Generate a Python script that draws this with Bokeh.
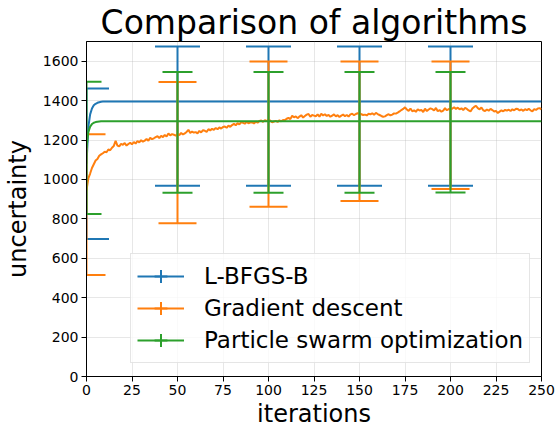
import math
from bokeh.plotting import figure
from bokeh.models import (Range1d, FixedTicker, Legend, LegendItem, ColumnDataSource, Title)
from bokeh.embed import file_html
from bokeh.resources import INLINE

# ---------------- data ----------------
iterations = list(range(0, 251))

lbfgsb_x = [0, 1, 2, 3, 4, 5, 6, 7, 8, 9, 10, 250]
lbfgsb_y = [1080, 1265, 1330, 1360, 1376, 1384, 1389, 1392, 1394, 1395, 1395, 1395]

pso_x = [0, 1, 2, 3, 4, 5, 6, 7, 8, 9, 250]
pso_y = [1160, 1240, 1268, 1281, 1288, 1291, 1293, 1294, 1295, 1295, 1295]

gd_y = [
    945, 1005, 1030, 1058, 1077, 1096, 1104, 1120, 1127, 1133,
    1141, 1138, 1152, 1148, 1161, 1170, 1196, 1172, 1168, 1181,
    1176, 1185, 1172, 1180, 1186, 1178, 1190, 1182, 1195, 1188,
    1199, 1192, 1197, 1205, 1196, 1212, 1204, 1209, 1215, 1219,
    1210, 1221, 1215, 1226, 1218, 1233, 1224, 1230, 1227, 1222,
    1230, 1225, 1236, 1228, 1234, 1241, 1252, 1236, 1243, 1238,
    1240, 1234, 1246, 1239, 1250, 1247, 1241, 1255, 1249, 1257,
    1252, 1261, 1255, 1264, 1258, 1266, 1269, 1262, 1273, 1267,
    1276, 1282, 1275, 1286, 1279, 1291, 1287, 1283, 1292, 1285,
    1290, 1289, 1284, 1293, 1288, 1297, 1299, 1292, 1301, 1296,
    1303, 1298, 1290, 1294, 1297, 1292, 1300, 1295, 1302, 1301,
    1308, 1313, 1306, 1323, 1315, 1320, 1311, 1319, 1326, 1314,
    1322, 1329, 1332, 1318, 1327, 1324, 1321, 1330, 1319, 1333,
    1325, 1331, 1322, 1328, 1318, 1324, 1330, 1320, 1326, 1317,
    1324, 1329, 1321, 1327, 1319, 1330, 1333, 1326, 1332, 1336,
    1335, 1331, 1327, 1329, 1325, 1333, 1330, 1336, 1328, 1338,
    1332, 1327, 1322, 1318, 1320, 1326, 1331, 1325, 1329, 1335,
    1334, 1339, 1345, 1352, 1358, 1366, 1355, 1348, 1360, 1346,
    1351, 1343, 1356, 1350, 1353, 1342, 1359, 1347, 1355, 1361,
    1357, 1350, 1363, 1346, 1352, 1344, 1349, 1362, 1351, 1357,
    1355, 1360, 1366, 1358, 1364, 1356, 1361, 1352, 1363, 1358,
    1350, 1345, 1360, 1368, 1374, 1362, 1356, 1365, 1351, 1347,
    1355, 1349, 1358, 1352, 1345, 1348, 1337, 1344, 1351, 1346,
    1353, 1349, 1354, 1347, 1356, 1351, 1359, 1357, 1350, 1355,
    1348, 1356, 1352, 1358, 1351, 1346, 1357, 1353, 1360, 1362,
    1355,
]

err_x = [0, 50, 100, 150, 200]
lbfgsb_upper = [1462, 1675, 1675, 1675, 1675]
lbfgsb_lower = [698, 968, 968, 968, 968]
gd_upper = [1229, 1494, 1598, 1598, 1598]
gd_lower = [515, 778, 862, 890, 951]
pso_upper = [1496, 1545, 1545, 1545, 1545]
pso_lower = [824, 932, 932, 932, 934]

labels = ["L-BFGS-B", "Gradient descent", "Particle swarm optimization"]
colors = ["#1f77b4", "#ff7f0e", "#2ca02c"]
cap_sizes = [45, 38, 30]

x_ticks = [0, 25, 50, 75, 100, 125, 150, 175, 200, 225, 250]
y_ticks = [0, 200, 400, 600, 800, 1000, 1200, 1400, 1600]

FONT = "DejaVu Sans"

# ---------------- figure ----------------
p = figure(width=555, height=430, output_backend="svg", toolbar_location=None,
           x_range=Range1d(0, 250), y_range=Range1d(0, 1700),
           min_border_left=86, min_border_right=14, min_border_top=0, min_border_bottom=52)
p.background_fill_color = "white"
p.border_fill_color = "white"
p.outline_line_color = "black"
p.outline_line_width = 1

p.title = Title(text="Comparison of algorithms", align="center",
                text_font=FONT, text_font_size="33px", text_font_style="normal",
                text_color="black", offset=0, standoff=0)

for ax in (p.xaxis[0], p.yaxis[0]):
    ax.axis_line_color = "black"
    ax.major_tick_line_color = "black"
    ax.major_tick_out = 5
    ax.major_tick_in = 0
    ax.minor_tick_line_color = None
    ax.major_label_text_font = FONT
    ax.major_label_text_font_size = "14px"
    ax.major_label_text_color = "black"
    ax.axis_label_text_font = FONT
    ax.axis_label_text_font_size = "24px"
    ax.axis_label_text_font_style = "normal"
    ax.axis_label_text_color = "black"
    ax.major_label_standoff = 3

p.xaxis.ticker = FixedTicker(ticks=x_ticks)
p.yaxis.ticker = FixedTicker(ticks=y_ticks)
p.xaxis.axis_label = "iterations"
p.yaxis.axis_label = "uncertainty"
p.xaxis.axis_label_standoff = 2
p.yaxis.axis_label_standoff = 8

p.xgrid.grid_line_color = "#b0b0b0"
p.ygrid.grid_line_color = "#b0b0b0"
p.xgrid.grid_line_alpha = 0.3
p.ygrid.grid_line_alpha = 0.3

series = [
    (lbfgsb_x, lbfgsb_y, lbfgsb_lower, lbfgsb_upper),
    (iterations, gd_y, gd_lower, gd_upper),
    (pso_x, pso_y, pso_lower, pso_upper),
]

nan = float("nan")
items = []
for (xs, ys, lo, up), lab, col, cap in zip(series, labels, colors, cap_sizes):
    ln = p.line(xs, ys, line_color=col, line_width=2)
    src = ColumnDataSource(dict(x=err_x, lo=lo, up=up))
    p.segment(x0="x", y0="lo", x1="x", y1="up", source=src, line_color=col, line_width=2)
    p.scatter(x="x", y="lo", source=src, marker="dash", size=cap, line_color=col, line_width=2)
    p.scatter(x="x", y="up", source=src, marker="dash", size=cap, line_color=col, line_width=2)
    # legend-only glyph for the vertical error bar (no visible data point)
    vleg = p.scatter(x=[nan], y=[nan], marker="cross", size=20,
                     line_color=col, line_width=2)
    items.append(LegendItem(label=lab, renderers=[ln, vleg]))

legend = Legend(items=items, location=(44, 13),
                label_text_font=FONT, label_text_font_size="23px", label_text_color="black",
                glyph_width=47, glyph_height=32, label_height=32, label_standoff=20,
                spacing=0, padding=6, margin=0,
                border_line_color="#cccccc", border_line_width=1,
                background_fill_color="white", background_fill_alpha=0.8)
p.add_layout(legend, "center")

open("out.html", "w").write(file_html(p, INLINE))
